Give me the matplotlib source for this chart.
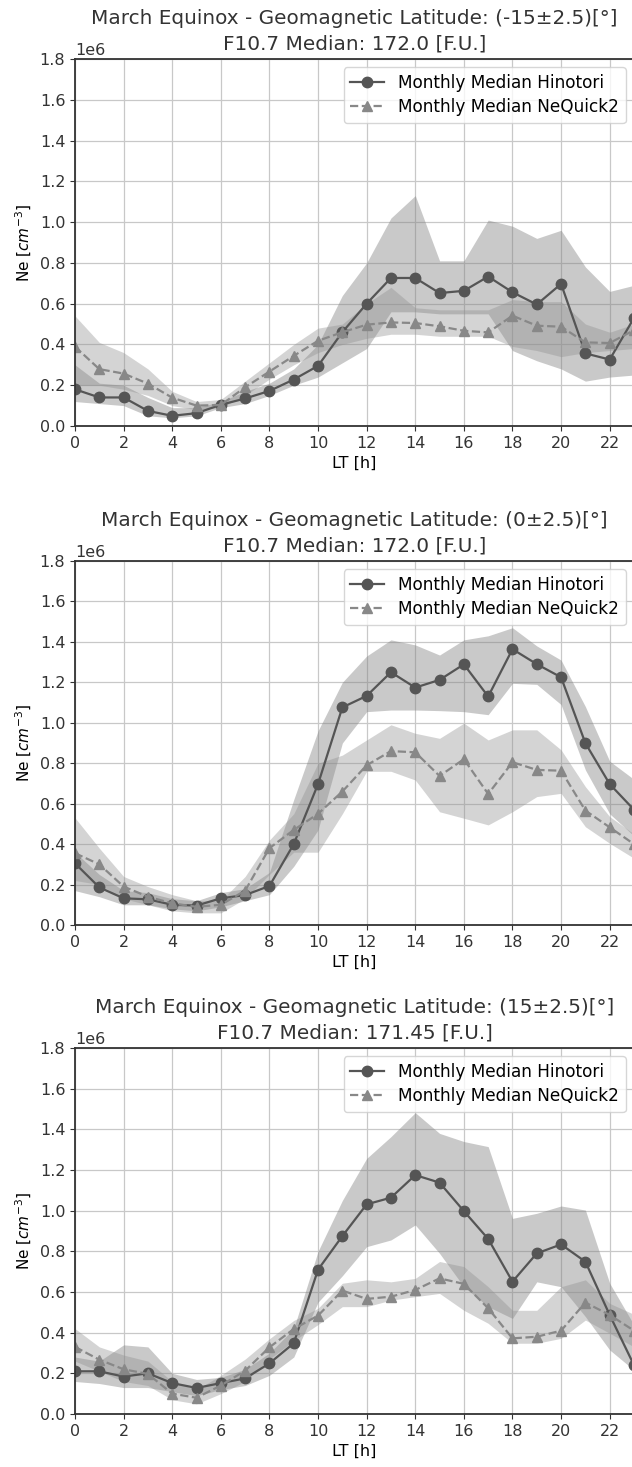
import matplotlib as mpl
mpl.use('Agg')
import matplotlib.pyplot as plt
import numpy as np

# -- Local time axis (hours)
lt = np.arange(24)

# -- Panel titles
lat_labels = ["(-15\u00b12.5)[\u00b0]", "(0\u00b12.5)[\u00b0]", "(15\u00b12.5)[\u00b0]"]
f107_labels = ["172.0", "172.0", "171.45"]

# -- Values in units of 1e6 cm^-3
# ----- Lat -15 ----- #
hino_m15 = [0.18, 0.14, 0.14, 0.074, 0.05, 0.063, 0.104, 0.135, 0.172, 0.228, 0.295, 0.46,
            0.60, 0.726, 0.726, 0.652, 0.663, 0.733, 0.656, 0.596, 0.697, 0.356, 0.326, 0.53]
hino_m15_hi = [0.30, 0.21, 0.20, 0.14, 0.09, 0.09, 0.12, 0.17, 0.21, 0.28, 0.40, 0.64,
               0.80, 1.02, 1.13, 0.81, 0.81, 1.01, 0.98, 0.92, 0.96, 0.78, 0.66, 0.69]
hino_m15_lo = [0.12, 0.11, 0.10, 0.05, 0.04, 0.05, 0.09, 0.11, 0.15, 0.20, 0.24, 0.31,
               0.38, 0.56, 0.56, 0.55, 0.55, 0.55, 0.37, 0.32, 0.28, 0.22, 0.24, 0.25]
neq_m15 = [0.389, 0.279, 0.257, 0.208, 0.139, 0.10, 0.103, 0.19, 0.267, 0.344, 0.418, 0.46,
           0.497, 0.508, 0.505, 0.489, 0.467, 0.459, 0.541, 0.492, 0.487, 0.41, 0.407, 0.47]
neq_m15_hi = [0.54, 0.41, 0.36, 0.28, 0.17, 0.12, 0.13, 0.22, 0.31, 0.40, 0.48, 0.50,
              0.60, 0.68, 0.58, 0.57, 0.57, 0.57, 0.62, 0.61, 0.61, 0.50, 0.46, 0.50]
neq_m15_lo = [0.20, 0.20, 0.18, 0.15, 0.10, 0.08, 0.09, 0.15, 0.23, 0.30, 0.36, 0.40,
              0.43, 0.45, 0.45, 0.44, 0.44, 0.44, 0.39, 0.37, 0.34, 0.36, 0.37, 0.38]

# ----- Lat 0 ----- #
hino_0 = [0.305, 0.186, 0.132, 0.127, 0.10, 0.096, 0.132, 0.148, 0.193, 0.40, 0.697, 1.076,
          1.133, 1.25, 1.174, 1.212, 1.289, 1.13, 1.364, 1.29, 1.225, 0.899, 0.697, 0.57]
hino_0_hi = [0.36, 0.25, 0.17, 0.16, 0.13, 0.12, 0.16, 0.18, 0.26, 0.62, 0.96, 1.20,
             1.33, 1.41, 1.385, 1.335, 1.41, 1.43, 1.47, 1.38, 1.31, 1.08, 0.81, 0.72]
hino_0_lo = [0.17, 0.14, 0.10, 0.10, 0.08, 0.07, 0.09, 0.12, 0.15, 0.29, 0.47, 0.90,
             1.055, 1.063, 1.063, 1.06, 1.055, 1.04, 1.195, 1.19, 1.09, 0.767, 0.55, 0.44]
neq_0 = [0.355, 0.30, 0.19, 0.14, 0.107, 0.09, 0.10, 0.17, 0.38, 0.47, 0.55, 0.66,
         0.79, 0.86, 0.854, 0.737, 0.82, 0.648, 0.805, 0.767, 0.763, 0.566, 0.483, 0.40]
neq_0_hi = [0.53, 0.38, 0.24, 0.19, 0.15, 0.12, 0.12, 0.24, 0.42, 0.55, 0.80, 0.84,
            0.915, 0.99, 0.948, 0.923, 0.998, 0.915, 0.965, 0.965, 0.866, 0.684, 0.536, 0.45]
neq_0_lo = [0.22, 0.20, 0.13, 0.10, 0.07, 0.06, 0.06, 0.13, 0.25, 0.36, 0.36, 0.55,
            0.76, 0.76, 0.717, 0.56, 0.528, 0.495, 0.56, 0.635, 0.651, 0.486, 0.404, 0.33]

# ----- Lat 15 ----- #
hino_p15 = [0.21, 0.21, 0.184, 0.20, 0.152, 0.128, 0.152, 0.175, 0.249, 0.348, 0.71, 0.875,
            1.031, 1.064, 1.175, 1.138, 0.998, 0.861, 0.651, 0.79, 0.834, 0.749, 0.487, 0.24]
hino_p15_hi = [0.28, 0.26, 0.34, 0.33, 0.20, 0.17, 0.18, 0.22, 0.30, 0.42, 0.80, 1.05,
               1.257, 1.364, 1.482, 1.38, 1.34, 1.315, 0.962, 0.987, 1.023, 1.003, 0.643, 0.438]
hino_p15_lo = [0.16, 0.15, 0.13, 0.13, 0.11, 0.09, 0.12, 0.14, 0.19, 0.28, 0.55, 0.68,
               0.823, 0.856, 0.93, 0.79, 0.626, 0.528, 0.47, 0.65, 0.626, 0.479, 0.315, 0.216]
neq_p15 = [0.33, 0.267, 0.22, 0.197, 0.10, 0.08, 0.14, 0.213, 0.328, 0.418, 0.484, 0.607,
           0.566, 0.577, 0.61, 0.667, 0.64, 0.52, 0.372, 0.38, 0.41, 0.548, 0.487, 0.41]
neq_p15_hi = [0.42, 0.33, 0.29, 0.26, 0.16, 0.12, 0.19, 0.27, 0.37, 0.46, 0.52, 0.643,
              0.66, 0.65, 0.667, 0.75, 0.725, 0.626, 0.51, 0.51, 0.626, 0.66, 0.544, 0.49]
neq_p15_lo = [0.26, 0.21, 0.16, 0.14, 0.07, 0.05, 0.10, 0.16, 0.27, 0.36, 0.44, 0.528,
              0.528, 0.56, 0.577, 0.593, 0.51, 0.446, 0.348, 0.348, 0.372, 0.462, 0.397, 0.33]

panels = [
    (hino_m15, hino_m15_lo, hino_m15_hi, neq_m15, neq_m15_lo, neq_m15_hi),
    (hino_0, hino_0_lo, hino_0_hi, neq_0, neq_0_lo, neq_0_hi),
    (hino_p15, hino_p15_lo, hino_p15_hi, neq_p15, neq_p15_lo, neq_p15_hi),
]

# -- Figure
dpi = 100
fig = plt.figure(figsize=(632 / dpi, 1467 / dpi), dpi=dpi)
mpl.rcParams['font.size'] = 11.5

# pixel rows (top, bottom) of each axes box
rows = [(59, 426), (561, 925), (1048, 1414)]
left_px, right_px = 75, 634
W, H = 632., 1467.

scale = 1e6
title_kw = dict(fontsize=14.4, color='#333333')
for i, (rows_px, data) in enumerate(zip(rows, panels)):
    top, bot = rows_px
    ax = fig.add_axes([left_px / W, 1 - bot / H, (right_px - left_px) / W, (bot - top) / H])
    h, h_lo, h_hi, n, n_lo, n_hi = [np.array(d) * scale for d in data]

    ax.fill_between(lt, h_lo, h_hi, color='#7f7f7f', alpha=0.42, lw=0)
    ax.fill_between(lt, n_lo, n_hi, color='#8f8f8f', alpha=0.38, lw=0)
    ax.plot(lt, h, '-o', color='#555555', ms=7.5, lw=1.6, label='Monthly Median Hinotori')
    ax.plot(lt, n, '--^', color='#888888', ms=7.5, lw=1.6, label='Monthly Median NeQuick2')

    ax.set_xlim(0, 23)
    ax.set_ylim(0, 1.8e6)
    ax.set_xticks(np.arange(0, 23, 2))
    ax.set_yticks(np.arange(0, 1.81e6, 0.2e6))
    ax.grid(True, color='#c8c8c8', lw=0.9)
    ax.set_axisbelow(True)
    ax.set_xlabel('LT [h]', fontsize=11.5)
    ax.set_ylabel(r'Ne [$cm^{-3}$]', fontsize=11)

    # two-line title written as two texts; fixed y keeps it from jumping over "1e6"
    ax.set_title('F10.7 Median: ' + f107_labels[i] + ' [F.U.]', y=1.0, pad=7, **title_kw)
    ax.annotate('March Equinox - Geomagnetic Latitude: ' + lat_labels[i],
                xy=(0.5, 1.0), xycoords='axes fraction', xytext=(0, 25),
                textcoords='offset points', ha='center', va='baseline', **title_kw)

    ax.legend(loc='upper right', fontsize=12.2, framealpha=0.8, labelspacing=0.35,
              borderpad=0.4, handlelength=2.0, handletextpad=0.8)
    for sp in ax.spines.values():
        sp.set_color('#333333')
        sp.set_linewidth(1.3)
    ax.tick_params(colors='#333333', labelcolor='#333333')

plt.savefig('out.png', dpi=dpi)
